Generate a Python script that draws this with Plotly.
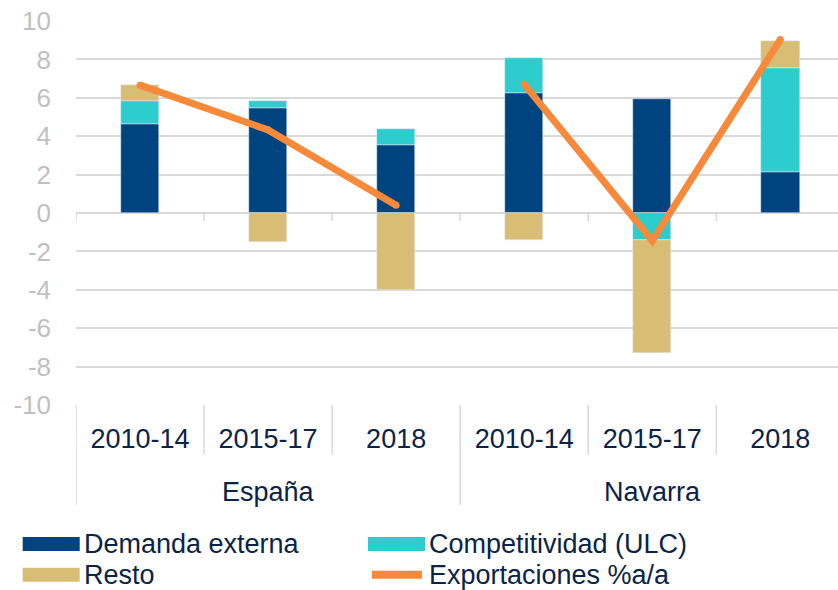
import plotly.graph_objects as go

# ---- data ----
regions = ["España", "Navarra"]
periods = ["2010-14", "2015-17", "2018"]
demanda_externa = [4.62, 5.48, 3.53, 6.25, 5.92, 2.11]
competitividad = [1.21, 0.33, 0.85, 1.83, -1.40, 5.45]
resto = [0.83, -1.50, -4.00, -1.38, -5.90, 1.39]
exportaciones_espana = [6.66, 4.33, 0.40]
exportaciones_navarra = [6.70, -1.45, 9.03]
y_ticks = [-10, -8, -6, -4, -2, 0, 2, 4, 6, 8, 10]
y_tick_labels = ["-10", "-8", "-6", "-4", "-2", "0", "2", "4", "6", "8", "10"]

series_names = ["Demanda externa", "Competitividad (ULC)", "Resto", "Exportaciones %a/a"]
C_DEM = "#00447F"
C_COMP = "#2DCCCD"
C_RESTO = "#D8BE75"
C_EXP = "#F7893B"
TXT = "#0B2346"
GRID = "#D9D9D9"
FONT = "Liberation Sans, Arial, sans-serif"

n = len(regions) * len(periods)
xs = list(range(n))
tick_text = [p for _ in regions for p in periods]

fig = go.Figure()
bar_w = 0.3
fig.add_trace(go.Bar(x=xs, y=demanda_externa, name=series_names[0], marker_color=C_DEM,
                     width=bar_w, showlegend=False))
fig.add_trace(go.Bar(x=xs, y=competitividad, name=series_names[1], marker_color=C_COMP,
                     width=bar_w, showlegend=False))
fig.add_trace(go.Bar(x=xs, y=resto, name=series_names[2], marker_color=C_RESTO,
                     width=bar_w, showlegend=False))
line_style = dict(color=C_EXP, width=7)
fig.add_trace(go.Scatter(x=xs[:3], y=exportaciones_espana, mode="lines+markers", name=series_names[3],
                         line=line_style, marker=dict(color=C_EXP, size=7), showlegend=False))
fig.add_trace(go.Scatter(x=xs[3:], y=exportaciones_navarra, mode="lines+markers", name=series_names[3],
                         line=line_style, marker=dict(color=C_EXP, size=7), showlegend=False))

# plot area geometry (pixels) used for paper-coordinate decorations
PLOT_TOP, PLOT_BOTTOM, PLOT_LEFT, PLOT_W = 20.7, 405.0, 76.0, 762.0
PH = PLOT_BOTTOM - PLOT_TOP
def py(px_y):
    return (PLOT_BOTTOM - px_y) / PH
def px(px_x):
    return (px_x - PLOT_LEFT) / PLOT_W

shapes = []
# category dividers below the plot
for i in range(n + 1):
    xb = i - 0.5
    outer = (i % len(periods) == 0)
    shapes.append(dict(type="line", xref="x", yref="paper", x0=xb, x1=xb,
                       y0=0, y1=py(505 if outer else 455),
                       line=dict(color=GRID, width=1.5)))
    # small ticks at the zero line
    shapes.append(dict(type="line", xref="x", yref="y", x0=xb, x1=xb, y0=0, y1=-0.42,
                       line=dict(color=GRID, width=1.5)))

annotations = []
for gi, reg in enumerate(regions):
    annotations.append(dict(x=gi * len(periods) + 1, y=py(492), xref="x", yref="paper",
                            text=reg, showarrow=False, xanchor="center", yanchor="middle",
                            font=dict(size=27, color=TXT, family=FONT)))

# custom legend
leg = [
    (series_names[0], C_DEM, 22.7, 544, "rect"),
    (series_names[1], C_COMP, 368, 544, "rect"),
    (series_names[2], C_RESTO, 22.7, 575, "rect"),
    (series_names[3], C_EXP, 368, 575, "line"),
]
for name, col, x0, yc, kind in leg:
    if kind == "rect":
        shapes.append(dict(type="rect", xref="paper", yref="paper",
                           x0=px(x0), x1=px(x0 + 57), y0=py(yc - 7), y1=py(yc + 7),
                           fillcolor=col, line=dict(width=0)))
    else:
        shapes.append(dict(type="line", xref="paper", yref="paper",
                           x0=px(x0 + 4), x1=px(x0 + 54), y0=py(yc), y1=py(yc),
                           line=dict(color=col, width=8)))
    annotations.append(dict(x=px(x0 + 59), y=py(yc), xref="paper", yref="paper",
                            text=name, showarrow=False, xanchor="left", yanchor="middle",
                            font=dict(size=27, color=TXT, family=FONT)))

fig.update_layout(
    width=838, height=590,
    margin=dict(l=76, r=0, t=21, b=185),
    paper_bgcolor="white", plot_bgcolor="white",
    barmode="relative", bargap=0,
    shapes=shapes, annotations=annotations,
    showlegend=False,
    font=dict(family=FONT),
)
fig.update_xaxes(range=[-0.5, -0.5 + PLOT_W / 128.06], tickvals=xs, ticktext=tick_text,
                 showgrid=False, zeroline=False, showline=False, ticks="",
                 tickfont=dict(size=27, color=TXT, family=FONT), ticklabelstandoff=15)
fig.update_yaxes(range=[-10, 10], tickvals=y_ticks, ticktext=y_tick_labels,
                 showgrid=True, gridcolor=GRID, gridwidth=1.5,
                 zeroline=True, zerolinecolor=GRID, zerolinewidth=1.5, showline=False,
                 tickfont=dict(size=26, color="#BFBFBF", family=FONT), ticklabelstandoff=24)

fig.write_html("out.html", config={"displayModeBar": False},
               post_script="document.body.style.margin='0';document.body.style.overflow='hidden';")
